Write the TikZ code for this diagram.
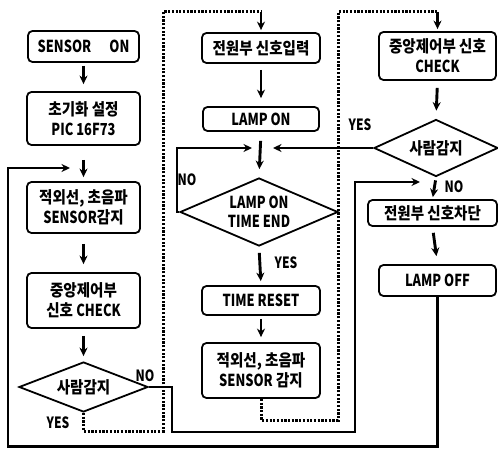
\documentclass[tikz,border=0pt]{standalone}
\usepackage{fontspec}
\setmainfont{Noto Sans CJK KR}[FakeStretch=0.88]
\newfontfamily\latfont{Noto Sans CJK KR}[FakeStretch=0.78]
\newcommand{\lt}[1]{{\latfont\bfseries #1}}
\usetikzlibrary{shapes.geometric,arrows.meta}
\begin{document}
\begin{tikzpicture}[x=1pt,y=-1pt,
  box/.style={draw,line width=1.8pt,rounded corners=4.5pt,inner sep=0pt,align=center,
    font=\fontsize{16.5}{20}\selectfont\bfseries},
  dia/.style={draw,diamond,line width=1.8pt,inner sep=0pt,align=center,
    font=\fontsize{16.5}{19}\selectfont\bfseries},
  flow/.style={line width=2.9pt,-{Stealth[length=8.5pt,width=8pt]}},
  dots/.style={line width=3pt,dash pattern=on 2.2pt off 1.5pt},
  lab/.style={inner sep=0pt,font=\fontsize{15.5}{16}\selectfont\latfont\bfseries}]
\useasboundingbox (0,0) rectangle (498,449);

% left column
\node[box,minimum width=111pt,minimum height=31pt] (b1) at (83.5,46.5) {\lt{SENSOR\hspace{1.1em}ON}};
\node[box,minimum width=113pt,minimum height=53pt] (b2) at (83.5,118.5) {초기화 설정\\\lt{PIC 16F73}};
\node[box,minimum width=113pt,minimum height=51pt] (b3) at (83.5,207.5) {적외선, 초음파\\\lt{SENSOR}감지};
\node[box,minimum width=113pt,minimum height=55pt] (b4) at (83.5,300.5) {중앙제어부\\신호 \lt{CHECK}};
\node[dia,aspect=2.6,minimum width=129pt,minimum height=50pt] (d1) at (83.5,387) {사람감지};

% middle column
\node[box,minimum width=118pt,minimum height=30pt] (m1) at (261,48) {전원부 신호입력};
\node[box,minimum width=116pt,minimum height=24pt] (m2) at (261,119) {\lt{LAMP ON}};
\node[dia,aspect=2.3,minimum width=158pt,minimum height=68pt] (d2) at (259,212) {\lt{LAMP ON}\\\lt{TIME END}};
\node[box,minimum width=118pt,minimum height=29pt] (m3) at (261,300.5) {\lt{TIME RESET}};
\node[box,minimum width=118pt,minimum height=55pt] (m4) at (261,370.5) {적외선, 초음파\\\lt{SENSOR} 감지};

% right column
\node[box,minimum width=117pt,minimum height=48pt] (r1) at (437.5,56) {중앙제어부 신호\\\lt{CHECK}};
\node[dia,aspect=2.2,minimum width=124pt,minimum height=57pt] (d3) at (436,148) {사람감지};
\node[box,minimum width=129pt,minimum height=26pt] (r2) at (432.5,213) {전원부 신호차단};
\node[box,minimum width=117pt,minimum height=31pt] (r3) at (437.5,280.5) {\lt{LAMP OFF}};

% junction points
\coordinate (jl) at (70,168);
\coordinate (jml) at (252,148);
\coordinate (jmr) at (273,148);
\coordinate (jr) at (420,182);
\coordinate (t1) at (261,12);
\coordinate (t2) at (437.5,12);

% straight arrows
\draw[flow,shorten <=3pt,shorten >=7pt] (b1.south) -- (b2.north);
\draw[flow,shorten <=14pt,shorten >=4pt] (b2.south) -- (b3.north);
\draw[flow,shorten <=10pt,shorten >=8pt] (b3.south) -- (b4.north);
\draw[flow,shorten <=7pt,shorten >=5pt] (b4.south) -- (d1.north);

\draw[flow,shorten <=6pt,shorten >=8pt] (m1.south) -- (m2.north);
\draw[flow,shorten <=9pt,shorten >=8pt] (m2.south) -- (d2.north);
\draw[flow,shorten <=6pt,shorten >=4pt] (d2.south) -- (m3.north);
\draw[flow,shorten <=3pt,shorten >=5pt] (m3.south) -- (m4.north);

\draw[flow,shorten <=7pt,shorten >=8pt] (r1.south) -- (d3.north);
\draw[flow,shorten <=3pt,shorten >=2pt] (d3.south) -- (r2.north);
\draw[flow,shorten <=6pt,shorten >=8pt] (r2.south) -- (r3.north);

% solid loops
\draw[flow] (d1.east) -- (172,387) |- (355,432) |- (jr);
\draw[flow] (r3.south) -- (437.5,446.5) -| (8,168) -- (jl);
\draw[flow] (d2.west) -- (177,212) |- (jml);
\draw[flow] (d3.west) -- (jmr);

% dotted paths
\draw[dots] (d1.south) |- (163,431) -- (163,12) -- (t1);
\draw[flow,shorten >=2pt] (t1) -- (m1.north);
\draw[dots] (m4.south) |- (338,420) -- (338,12) -- (t2);
\draw[flow,shorten >=2pt] (t2) -- (r1.north);

% labels
\node[lab] (l1) at (145,376) {NO};
\node[lab] (l2) at (58,423) {YES};
\node[lab] (l3) at (187,180) {NO};
\node[lab] (l4) at (286,263) {YES};
\node[lab] (l5) at (360,125) {YES};
\node[lab] (l6) at (454,187) {NO};
\end{tikzpicture}
\end{document}
